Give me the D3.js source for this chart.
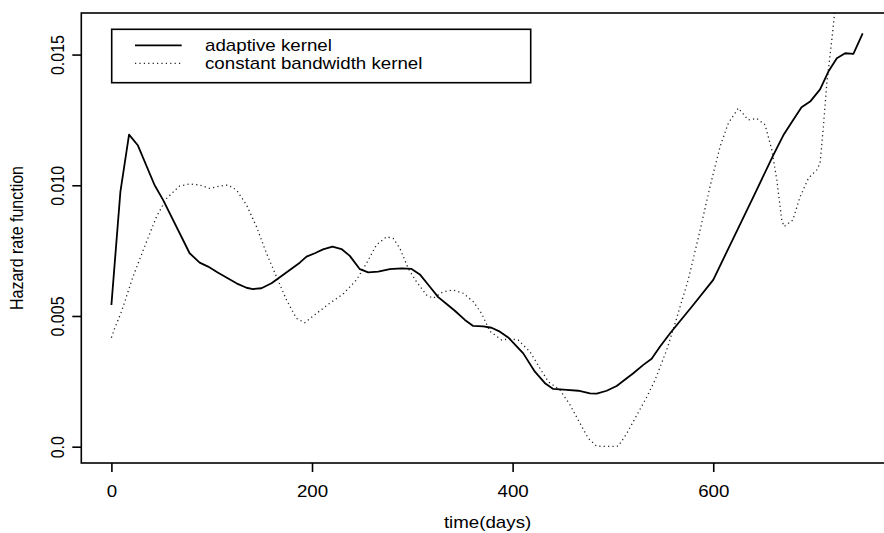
<!DOCTYPE html>
<html>
<head>
<meta charset="utf-8">
<script src="https://cdn.jsdelivr.net/npm/d3@7"></script>
<style>
  html, body { margin: 0; padding: 0; background: #fff; }
  svg { display: block; }
  text { font-family: "Liberation Sans", Arial, Helvetica, sans-serif; fill: #000; }
</style>
</head>
<body>
<svg id="chart" width="884" height="533"></svg>
<script>
// ---- data ----
const adaptiveTime = [0, 9, 17.6, 26.5, 43, 51.5, 78, 88, 96.4, 106, 124.7, 134.7, 141, 149.6, 159.6, 171, 187.8, 194.5, 202.8, 211, 220.4, 229.4, 237.7, 247.7, 256, 266, 277.6, 289.3, 299.3, 307.5, 317.5, 325.8, 334.2, 342.4, 352.4, 360.7, 370.7, 379, 387.3, 395.6, 410.6, 422.2, 432.2, 440.5, 453.9, 465.5, 477.1, 483.8, 493.8, 503.7, 520.3, 530.3, 538.6, 547, 557, 580, 600, 620, 640, 660, 670, 680, 688, 696.6, 706.5, 714.8, 723.2, 731.5, 739.7, 749];
const adaptiveHazard = [0.00542, 0.00976, 0.01194, 0.01152, 0.01001, 0.00944, 0.0074, 0.00704, 0.00689, 0.00666, 0.00625, 0.00608, 0.00603, 0.00606, 0.00625, 0.00657, 0.00704, 0.00727, 0.0074, 0.00755, 0.00765, 0.00756, 0.0073, 0.00679, 0.00667, 0.0067, 0.00679, 0.00682, 0.0068, 0.00659, 0.00612, 0.00572, 0.00546, 0.0052, 0.00485, 0.00462, 0.0046, 0.00455, 0.0044, 0.00418, 0.00357, 0.00287, 0.00243, 0.00221, 0.00217, 0.00214, 0.00204, 0.00203, 0.00214, 0.00232, 0.00281, 0.00313, 0.00336, 0.00383, 0.00434, 0.00542, 0.00638, 0.00797, 0.00956, 0.01116, 0.01192, 0.01252, 0.01298, 0.0132, 0.01367, 0.01435, 0.01486, 0.01505, 0.01503, 0.01581];

const constantTime = [0, 3.3, 10, 21.5, 35, 45, 55, 68, 78, 88, 98, 108, 116.3, 124.7, 134.7, 144.6, 154.6, 164.6, 174.6, 184.5, 192.8, 204.5, 217.8, 231, 244.4, 254.4, 264.3, 274.3, 280.9, 287.6, 295.9, 304.2, 314.2, 320.8, 330.8, 340.7, 350.7, 360.7, 369, 377.3, 389, 397, 405.6, 417.3, 427.2, 435.5, 447.2, 457.2, 467.1, 475.4, 483.8, 497, 505.3, 513.7, 523.7, 533.7, 542, 553.6, 562, 570, 575, 585, 596.8, 606.8, 615, 625, 635, 643.4, 651.7, 658.4, 663.4, 668.3, 670.6, 679.3, 686.6, 694.9, 703.2, 706.5, 709.8, 713.2, 718.2, 721, 724];
const constantHazard = [0.00417, 0.00453, 0.00516, 0.0065, 0.00784, 0.0088, 0.0095, 0.00997, 0.01005, 0.01001, 0.00988, 0.00997, 0.01001, 0.00982, 0.00925, 0.00842, 0.0074, 0.0065, 0.00561, 0.00491, 0.00474, 0.0051, 0.00549, 0.00584, 0.00638, 0.00702, 0.00772, 0.00803, 0.00797, 0.00759, 0.00682, 0.00631, 0.0058, 0.00568, 0.00593, 0.00599, 0.00587, 0.00555, 0.0051, 0.00442, 0.00408, 0.00413, 0.00408, 0.00363, 0.003, 0.00249, 0.00217, 0.0016, 0.0009, 0.00032, 0.00002, 0.00001, 0.00002, 0.0005, 0.0012, 0.0019, 0.00255, 0.0037, 0.00472, 0.00574, 0.00638, 0.00797, 0.00995, 0.01148, 0.01237, 0.01295, 0.0125, 0.01256, 0.01231, 0.01135, 0.0102, 0.00867, 0.00842, 0.00867, 0.00956, 0.01027, 0.01059, 0.01084, 0.01224, 0.0139, 0.01556, 0.0166, 0.0178];

const xTicks = [0, 200, 400, 600];
const xTickLabels = ["0", "200", "400", "600"];
const yTicks = [0, 0.005, 0.010, 0.015];
const yTickLabels = ["0.0", "0.005", "0.010", "0.015"];
const legendLabels = ["adaptive kernel", "constant bandwidth kernel"];
const xTitle = "time(days)";
const yTitle = "Hazard rate function";

// ---- layout ----
const svg = d3.select("#chart");
const plotLeft = 81.3, plotRight = 893.8, plotTop = 13, plotBottom = 463;
const SX = 1.17;          // horizontal stretch of the reference's text
const FS = 16;

const x = d3.scaleLinear().domain([-30, 780]).range([plotLeft, plotRight]);
const y = d3.scaleLinear().domain([-0.000624, 0.01659]).range([plotBottom, plotTop]);

svg.append("defs").append("clipPath").attr("id", "plotclip")
  .append("rect").attr("x", plotLeft).attr("y", plotTop)
  .attr("width", plotRight - plotLeft).attr("height", plotBottom - plotTop);

const line = d3.line().x(d => x(d[0])).y(d => y(d[1]));
const adaptive = adaptiveTime.map((t, i) => [t, adaptiveHazard[i]]);
const constant = constantTime.map((t, i) => [t, constantHazard[i]]);

const g = svg.append("g").attr("clip-path", "url(#plotclip)");
g.append("path").datum(constant).attr("d", line)
  .attr("fill", "none").attr("stroke", "#222").attr("stroke-width", 1.3)
  .attr("stroke-dasharray", "1.2 3.2");
g.append("path").datum(adaptive).attr("d", line)
  .attr("fill", "none").attr("stroke", "#000").attr("stroke-width", 1.8)
  .attr("stroke-linejoin", "round");

// box
svg.append("rect").attr("x", plotLeft).attr("y", plotTop)
  .attr("width", plotRight - plotLeft).attr("height", plotBottom - plotTop)
  .attr("fill", "none").attr("stroke", "#000").attr("stroke-width", 1.6);

// x axis
const xAxis = svg.append("g").attr("transform", `translate(0,${plotBottom})`)
  .call(d3.axisBottom(x).tickValues(xTicks).tickFormat((d, i) => xTickLabels[i]).tickSize(9).tickSizeOuter(0));
xAxis.select(".domain").remove();
xAxis.selectAll(".tick line").attr("stroke", "#000").attr("stroke-width", 1.6);
xAxis.selectAll(".tick text")
  .attr("y", 33.7).attr("dy", null)
  .attr("font-size", FS).attr("text-anchor", "middle")
  .attr("transform", `scale(${SX},1)`);

// y axis
const yAxis = svg.append("g").attr("transform", `translate(${plotLeft},0)`)
  .call(d3.axisLeft(y).tickValues(yTicks).tickFormat((d, i) => yTickLabels[i]).tickSize(9).tickSizeOuter(0));
yAxis.select(".domain").remove();
yAxis.selectAll(".tick line").attr("stroke", "#000").attr("stroke-width", 1.6);
yAxis.selectAll(".tick text")
  .attr("x", 0).attr("y", 0).attr("dy", null)
  .attr("font-size", FS).attr("text-anchor", "middle")
  .attr("transform", `translate(-17.7,0) rotate(-90) scale(1,${SX})`);

// axis titles
svg.append("text").text(xTitle)
  .attr("font-size", FS).attr("text-anchor", "middle")
  .attr("transform", `translate(${(plotLeft + plotRight) / 2},528) scale(${SX},1)`);
svg.append("text").text(yTitle)
  .attr("font-size", FS).attr("text-anchor", "middle")
  .attr("transform", `translate(23.3,${(plotTop + plotBottom) / 2}) rotate(-90) scale(1,${SX})`);

// legend
const leg = svg.append("g");
leg.append("rect").attr("x", 111.7).attr("y", 29.3).attr("width", 419).attr("height", 53.4)
  .attr("fill", "#fff").attr("stroke", "#000").attr("stroke-width", 1.6);
const legRows = [45.3, 63.3];
const legStyles = [{ w: 1.8, dash: null, c: "#000" }, { w: 1.3, dash: "1.2 3.2", c: "#222" }];
legendLabels.forEach((lab, i) => {
  leg.append("line").attr("x1", 135).attr("x2", 181.7).attr("y1", legRows[i]).attr("y2", legRows[i])
    .attr("stroke", legStyles[i].c).attr("stroke-width", legStyles[i].w)
    .attr("stroke-dasharray", legStyles[i].dash);
  leg.append("text").text(lab).attr("font-size", FS)
    .attr("transform", `translate(205,${legRows[i] + 5.8}) scale(${SX},1)`);
});
</script>
</body>
</html>
